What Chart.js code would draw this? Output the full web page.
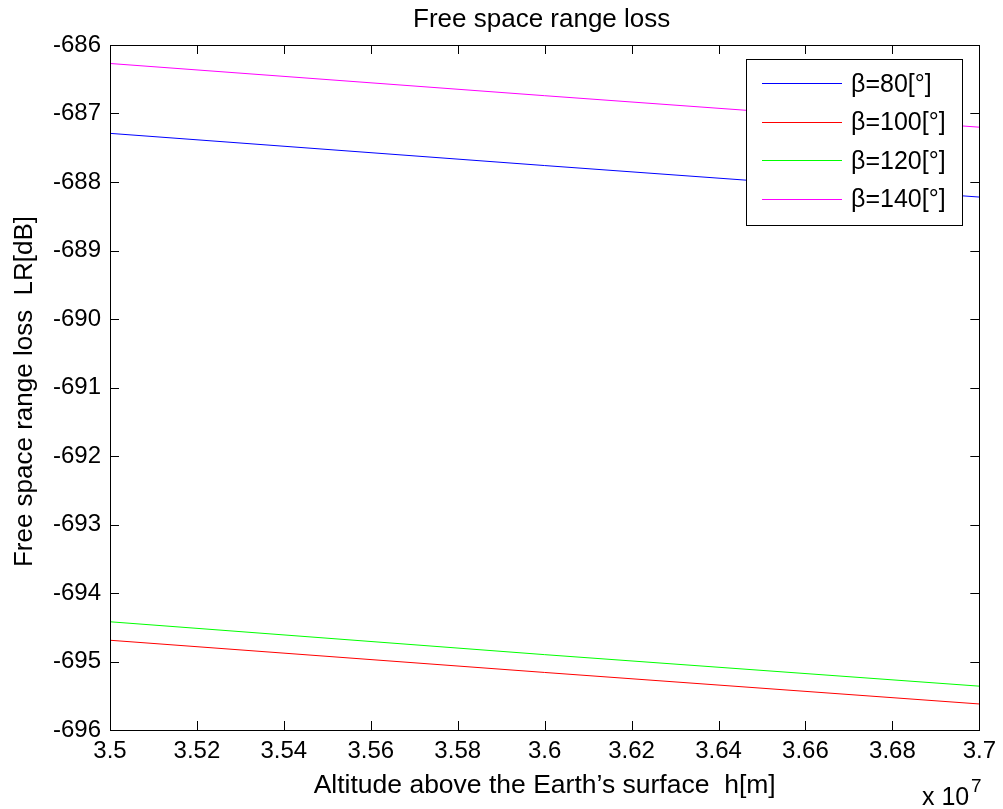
<!DOCTYPE html>
<html>
<head>
<meta charset="utf-8">
<script src="https://cdn.jsdelivr.net/npm/chart.js@4/dist/chart.umd.min.js"></script>
<style>
  html, body { margin: 0; padding: 0; background: #fff; }
  canvas { display: block; }
</style>
</head>
<body>
<canvas id="graphCanvas" width="1003" height="809"></canvas>
<script>
// Altitude above the Earth's surface [m]
const altitude = [35000000, 36000000, 37000000];

// Free space range loss [dB] per elevation angle
const beta80 = [-687.29, -687.76, -688.22];
const beta100 = [-694.69, -695.16, -695.62];
const beta120 = [-694.42, -694.90, -695.36];
const beta140 = [-686.27, -686.74, -687.20];

const seriesLabels = ['β=80[°]', 'β=100[°]', 'β=120[°]', 'β=140[°]'];
const seriesColors = ['#0000ff', '#ff0000', '#00ff00', '#ff00ff'];

const yTicks = [-696, -695, -694, -693, -692, -691, -690, -689, -688, -687, -686];
const xTicks = [35000000, 35200000, 35400000, 35600000, 35800000, 36000000,
                36200000, 36400000, 36600000, 36800000, 37000000];

const FONT = 'Arial, "Liberation Sans", sans-serif';

const toPoints = (ys) => ys.map((y, i) => ({ x: altitude[i], y: y }));

const datasets = [beta80, beta100, beta120, beta140].map((vals, i) => ({
    label: seriesLabels[i],
    data: toPoints(vals),
    borderColor: seriesColors[i],
    backgroundColor: seriesColors[i],
    borderWidth: 1,
    pointRadius: 0,
    tension: 0,
    fill: false,
}));

// box, inward ticks, titles, legend, exponent label
const matlabLook = {
    id: 'matlabLook',
    afterDraw(chart) {
        const c = chart.ctx;
        const a = chart.chartArea;
        const xs = chart.scales.x, ys = chart.scales.y;
        const midX = (a.left + a.right) / 2;
        c.save();
        c.strokeStyle = '#000';
        c.lineWidth = 1;
        c.strokeRect(Math.round(a.left) + 0.5, Math.round(a.top) + 0.5,
                     Math.round(a.right - a.left), Math.round(a.bottom - a.top));
        c.beginPath();
        xTicks.forEach(v => {
            const px = Math.round(xs.getPixelForValue(v)) + 0.5;
            c.moveTo(px, a.bottom); c.lineTo(px, a.bottom - 9);
            c.moveTo(px, a.top); c.lineTo(px, a.top + 9);
        });
        yTicks.forEach(v => {
            const py = Math.round(ys.getPixelForValue(v)) + 0.5;
            c.moveTo(a.left, py); c.lineTo(a.left + 9, py);
            c.moveTo(a.right, py); c.lineTo(a.right - 9, py);
        });
        c.stroke();

        c.fillStyle = '#000';
        c.textBaseline = 'alphabetic';

        // title
        c.font = '26px ' + FONT;
        c.textAlign = 'center';
        c.fillText('Free space range loss', midX - 3, 27);

        // axis titles
        c.font = '26.5px ' + FONT;
        c.fillText('Altitude above the Earth’s surface  h[m]', midX, 793);

        c.save();
        c.translate(32, 391.5);
        c.rotate(-Math.PI / 2);
        c.font = '26px ' + FONT;
        c.textAlign = 'center';
        c.fillText('Free space range loss  LR[dB]', 0, 0);
        c.restore();

        // exponent
        c.font = '25px ' + FONT;
        c.textAlign = 'left';
        c.fillText('x 10', 922, 805);
        c.font = '19px ' + FONT;
        c.fillText('7', 971, 792);

        // legend
        const lx = 746, ly = 59, lw = 216, lh = 166;
        c.fillStyle = '#fff';
        c.fillRect(lx, ly, lw, lh);
        c.strokeStyle = '#000';
        c.strokeRect(lx + 0.5, ly + 0.5, lw, lh);
        c.font = '25px ' + FONT;
        c.textBaseline = 'middle';
        chart.data.datasets.forEach((ds, i) => {
            const yy = ly + 24 + i * 38.5;
            c.strokeStyle = ds.borderColor;
            c.beginPath();
            c.moveTo(lx + 16, Math.round(yy) + 0.5);
            c.lineTo(lx + 96, Math.round(yy) + 0.5);
            c.stroke();
            c.fillStyle = '#000';
            c.fillText(ds.label, lx + 105, yy + 2);
        });
        c.restore();
    }
};

const ctx = document.getElementById('graphCanvas').getContext('2d');

new Chart(ctx, {
    type: 'line',
    data: { datasets: datasets },
    options: {
        responsive: false,
        animation: false,
        layout: { padding: { top: 45, right: 20, left: 0, bottom: 0 } },
        plugins: {
            legend: { display: false },
            title: { display: false },
            tooltip: { enabled: false },
        },
        scales: {
            x: {
                type: 'linear',
                min: 35000000,
                max: 37000000,
                afterFit(scale) { scale.height = 79; },
                afterBuildTicks(scale) { scale.ticks = xTicks.map(v => ({ value: v })); },
                grid: { display: false, drawTicks: false },
                border: { display: false },
                ticks: {
                    color: '#000',
                    padding: 7,
                    maxRotation: 0,
                    autoSkip: false,
                    font: { family: FONT, size: 24 },
                    callback: (v) => String(Number((v / 1e7).toFixed(2))),
                },
                title: { display: false },
            },
            y: {
                type: 'linear',
                min: -696,
                max: -686,
                afterFit(scale) { scale.width = 110; },
                afterBuildTicks(scale) { scale.ticks = yTicks.map(v => ({ value: v })); },
                grid: { display: false, drawTicks: false },
                border: { display: false },
                ticks: {
                    color: '#000',
                    padding: 9,
                    autoSkip: false,
                    font: { family: FONT, size: 24 },
                    callback: (v) => String(v),
                },
                title: { display: false },
            },
        },
    },
    plugins: [matlabLook],
});
</script>
</body>
</html>
